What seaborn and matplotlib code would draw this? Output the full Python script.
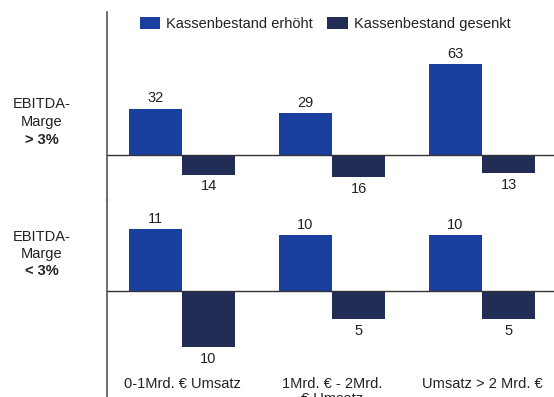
import pandas as pd
import seaborn as sns
import matplotlib.pyplot as plt
from matplotlib.patches import Patch
from matplotlib.transforms import blended_transform_factory

# --- data -------------------------------------------------------------
categories = ["0-1Mrd. € Umsatz", "1Mrd. € - 2Mrd.\n€ Umsatz", "Umsatz > 2 Mrd. €"]
levels = ["Kassenbestand erhöht", "Kassenbestand gesenkt"]

# EBITDA-Marge > 3 %
erhoeht_hoch = [32, 29, 63]
gesenkt_hoch = [14, 16, 13]
# EBITDA-Marge < 3 %
erhoeht_niedrig = [11, 10, 10]
gesenkt_niedrig = [10, 5, 5]

colors = ["#1b3f9e", "#222d55"]
text_color = "#222222"

sns.set_style("white")
plt.rcParams["font.family"] = ["Liberation Sans", "DejaVu Sans"]

W, H = 554, 397
fig = plt.figure(figsize=(W / 100, H / 100), dpi=100)
fig.patch.set_facecolor("white")

LEFT = 107


def make_axes(top, bottom):
    return fig.add_axes([LEFT / W, 1 - bottom / H, 1 - LEFT / W, (bottom - top) / H])


def long_frame(up, down):
    rows = []
    for cat, u, d in zip(categories, up, down):
        rows.append({"Umsatz": cat, "Kassenbestand": levels[0], "Wert": u})
        rows.append({"Umsatz": cat, "Kassenbestand": levels[1], "Wert": -d})
    return pd.DataFrame(rows)


def panel(ax, up, down, ylim):
    df = long_frame(up, down)
    sns.barplot(data=df, x="Umsatz", y="Wert", hue="Kassenbestand",
                order=categories, hue_order=levels, palette=colors,
                width=0.707, saturation=1, errorbar=None, legend=False,
                linewidth=0, ax=ax)
    ax.axhline(0, color="#333333", lw=1.0, zorder=3)
    ax.set_xlim(-0.5, 2.48)
    ax.set_ylim(*ylim)
    ax.set_xticks([])
    ax.set_yticks([])
    ax.set_xlabel("")
    ax.set_ylabel("")
    for side in ("top", "right", "bottom"):
        ax.spines[side].set_visible(False)
    ax.spines["left"].set_color("#555555")
    ax.spines["left"].set_linewidth(1.2)
    ax.set_facecolor("none")
    pos_c, neg_c = ax.containers[0], ax.containers[1]
    ax.bar_label(pos_c, labels=[str(v) for v in up], padding=2.5,
                 fontsize=10.5, color=text_color)
    ax.bar_label(neg_c, labels=[str(v) for v in down], padding=3.5,
                 fontsize=10.5, color=text_color)


ax_hi = make_axes(12, 200)
ax_lo = make_axes(200, 397)
panel(ax_hi, erhoeht_hoch, gesenkt_hoch, (-31.8, 99.6))
panel(ax_lo, erhoeht_niedrig, gesenkt_niedrig, (-18.93, 16.25))

# category labels under the lower panel (the wrapped one runs off the bottom edge)
trans = blended_transform_factory(ax_lo.transData, ax_lo.transAxes)
for i, cat in enumerate(categories):
    ax_lo.text(i, 0.102, cat, transform=trans, ha="center", va="top",
               fontsize=10.5, color=text_color, linespacing=1.1)

# row labels on the left
def row_label(y_lines, last):
    for y, txt in zip(y_lines[:2], ["EBITDA-", "Marge"]):
        fig.text(42 / W, 1 - y / H, txt, ha="center", va="center",
                 fontsize=10.5, color=text_color)
    fig.text(42 / W, 1 - y_lines[2] / H, last, ha="center", va="center",
             fontsize=10.5, color=text_color, fontweight="bold")


row_label([104, 122, 140], "> 3%")
row_label([237, 254, 271], "< 3%")

handles = [Patch(facecolor=c, edgecolor="none") for c in colors]
fig.legend(handles, levels, loc="center", bbox_to_anchor=(325 / W, 1 - 24 / H),
           ncol=2, frameon=False, fontsize=10.5, handlelength=1.4,
           handleheight=0.9, handletextpad=0.4, columnspacing=1.0,
           labelcolor=text_color)

fig.savefig("out.png", dpi=100, facecolor="white")
